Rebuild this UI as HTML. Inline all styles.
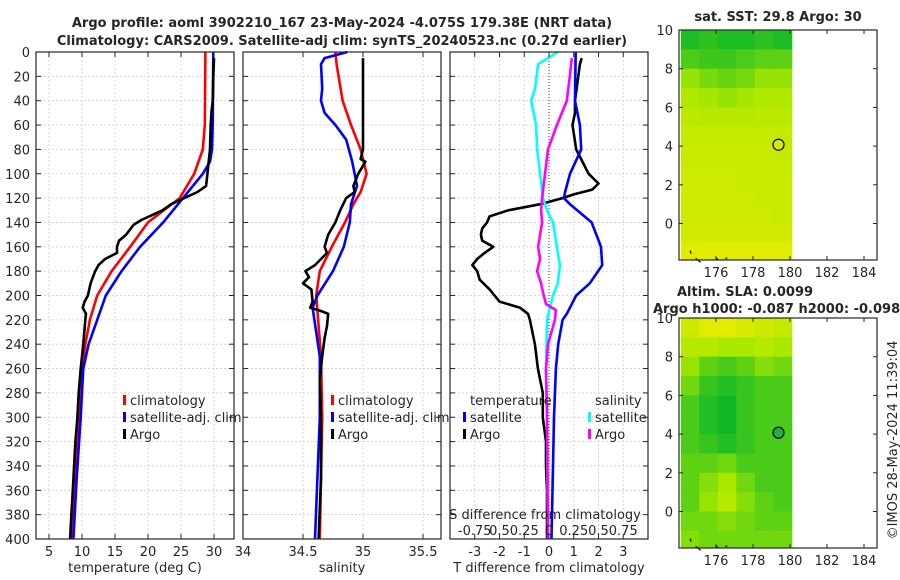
<!DOCTYPE html>
<html><head><meta charset="utf-8"><style>
body{margin:0;background:#fff;}
svg{display:block;font-family:"DejaVu Sans","Liberation Sans",sans-serif;}
text{fill:#262626;}
</style></head><body>
<svg id="fig" width="900" height="580" viewBox="0 0 900 580"></svg>
<script>
// ---------- data ----------
const depthTicks=[0,20,40,60,80,100,120,140,160,180,200,220,240,260,280,300,320,340,360,380,400];
const tTicks=[5,10,15,20,25,30];
const sTicks=[34,34.5,35,35.5];
const sTickLabels=['34','34.5','35','35.5'];
const dtTicks=[-3,-2,-1,0,1,2,3];
const dsTicks=[-0.75,-0.5,-0.25,0,0.25,0.5,0.75];
const dsTickLabels=['-0.75','0.5','0.25','0','0.25','0.5','0.75'];

const argoTDepth=[5,20,40,50,60,80,90,100,110,115,120,125,130,133,138,142,150,155,160,165,170,175,180,190,200,205,210,215,220,240,260,280,300,320,340,360,380,400];
const argoT=[30.0,29.9,29.8,29.6,29.5,29.4,29.2,29.0,28.8,27.5,25.5,23.5,22.2,21.0,19.0,17.8,16.7,15.6,15.3,15.3,13.5,12.5,12.0,11.3,10.9,10.4,10.1,10.6,10.5,10.2,9.8,9.5,9.3,9.0,8.8,8.6,8.4,8.2];
const climTDepth=[0,60,80,100,120,140,160,180,200,220,240,260,300,350,400];
const climT=[28.7,28.6,28.3,27.0,24.8,20.0,17.3,14.5,12.3,11.2,10.5,10.0,9.5,9.0,8.5];
const satTDepth=[0,60,80,90,100,120,140,160,180,200,220,240,260,300,350,400];
const satT=[29.9,29.8,29.7,29.4,28.3,25.3,22.3,18.8,16.0,13.6,12.3,11.0,10.2,9.8,9.2,8.7];

const argoSDepth=[5,20,40,60,80,88,90,100,110,115,120,130,140,150,160,165,175,180,185,190,195,205,210,212,215,225,235,250,270,300,350,400];
const argoS=[35.0,35.0,35.0,35.0,35.0,34.98,35.02,34.96,34.92,34.93,34.86,34.81,34.77,34.71,34.68,34.7,34.6,34.52,34.55,34.5,34.57,34.58,34.56,34.63,34.71,34.7,34.68,34.66,34.64,34.65,34.65,34.63];
const climSDepth=[0,10,40,60,80,100,115,125,140,160,180,200,250,300,400];
const climS=[34.77,34.78,34.83,34.9,34.98,35.03,34.98,34.92,34.85,34.74,34.64,34.61,34.65,34.66,34.64];
const satSDepth=[0,5,10,30,40,50,60,72,90,110,125,140,160,180,200,210,250,300,400];
const satS=[34.87,34.68,34.65,34.66,34.65,34.68,34.77,34.86,34.91,34.95,34.9,34.89,34.84,34.75,34.62,34.58,34.64,34.64,34.6];

const dsSatDepth=[0,5,10,30,40,60,80,100,120,130,140,160,175,190,200,220,260,300,400];
const dsSat=[0.09,-0.01,-0.11,-0.14,-0.18,-0.13,-0.12,-0.09,-0.06,-0.02,0.04,0.08,0.11,0.09,0.04,-0.02,-0.03,-0.02,-0.01];
const dsArgoDepth=[5,20,40,60,80,100,120,130,140,160,170,180,190,198,207,212,220,240,260,300,400];
const dsArgo=[0.23,0.21,0.18,0.08,-0.01,-0.04,-0.07,-0.08,-0.07,-0.11,-0.09,-0.12,-0.08,-0.06,-0.03,0.07,0.06,-0.01,-0.03,-0.02,-0.01];
const dtSatDepth=[0,40,60,80,100,115,120,125,140,160,175,190,200,215,220,240,260,300,400];
const dtSat=[1.08,1.05,1.25,1.3,0.85,0.65,0.6,0.85,1.72,2.1,2.15,1.65,1.1,0.72,0.55,0.37,0.28,0.2,0.1];
const dtArgoDepth=[5,10,40,50,60,80,90,100,108,113,117,120,125,130,135,140,145,150,155,160,165,170,175,180,187,195,205,210,215,220,240,260,280,300,320,340,360,400];
const dtArgo=[1.32,1.25,1.05,1.05,0.95,1.1,1.35,1.6,2.0,1.75,1.0,0.55,-0.35,-1.65,-2.4,-2.5,-2.7,-2.75,-2.7,-2.25,-2.6,-2.9,-3.1,-2.9,-2.8,-2.4,-2.0,-1.17,-0.85,-0.77,-0.57,-0.45,-0.25,-0.25,-0.12,-0.12,-0.08,-0.08];

const mapLatTicks=[0,2,4,6,8,10];
const mapLonTicks=[176,178,180,182,184];
const gridLats=[10,9,8,7,6,5,4,3,2,1,0,-1,-2];
const gridLons=[174.1,175.1,176.1,177.1,178.1,179.1,180.1];
const sstGrid=[
[28.6,28.7,28.6,28.6,28.7,28.6],
[28.9,28.8,28.8,28.9,29.0,29.0],
[29.4,29.2,29.1,29.2,29.4,29.4],
[29.6,29.5,29.4,29.5,29.6,29.6],
[29.75,29.7,29.7,29.7,29.75,29.75],
[29.85,29.85,29.85,29.85,29.85,29.85],
[29.9,29.9,29.9,29.9,29.9,29.85],
[29.95,29.95,29.95,29.9,29.9,29.9],
[29.95,29.95,29.95,29.95,29.9,29.9],
[29.95,29.95,29.95,29.95,29.95,29.9],
[30.0,30.0,30.0,30.0,30.0,30.0],
[30.2,30.2,30.2,30.2,30.2,30.2]];
const slaGrid=[
[0.10,0.12,0.13,0.11,0.10,0.09],
[0.08,0.08,0.07,0.07,0.08,0.07],
[0.06,0.03,0.02,0.03,0.05,0.04],
[0.04,0.01,0.0,0.01,0.02,0.02],
[0.02,0.0,-0.01,0.01,0.02,0.02],
[0.02,0.0,-0.01,0.01,0.02,0.02],
[0.02,0.01,0.0,0.01,0.02,0.02],
[0.03,0.03,0.04,0.02,0.02,0.02],
[0.03,0.05,0.07,0.04,0.02,0.02],
[0.03,0.06,0.08,0.05,0.03,0.02],
[0.04,0.04,0.05,0.04,0.03,0.03],
[0.05,0.04,0.04,0.04,0.04,0.04]];
const argoLon=179.38, argoLat=4.07;

// ---------- helpers ----------
const NS='http://www.w3.org/2000/svg';
const svg=document.getElementById('fig');
function el(tag,attrs,parent,txt){const e=document.createElementNS(NS,tag);for(const k in attrs)e.setAttribute(k,attrs[k]);if(txt!==undefined)e.textContent=txt;(parent||svg).appendChild(e);return e;}
function lin(d0,d1,r0,r1){return v=>r0+(v-d0)*(r1-r0)/(d1-d0);}
const Y0=52,Y1=539;
const yD=lin(0,400,Y0,Y1);

function panel(x0,x1,name){
  const g=el('g',{});
  
  
  el('rect',{x:x0,y:Y0,width:x1-x0,height:Y1-Y0,fill:'#fff'},g);
  depthTicks.forEach(d=>{el('line',{x1:x0,x2:x1,y1:yD(d),y2:yD(d),stroke:'#c8cce6','stroke-width':0.8,'stroke-dasharray':'2,2'},g);});
  return g;
}
function frame(g,x0,x1,labels){
  depthTicks.forEach(d=>{
    el('line',{x1:x0,x2:x0+5,y1:yD(d),y2:yD(d),stroke:'#262626'},g);
    el('line',{x1:x1-5,x2:x1,y1:yD(d),y2:yD(d),stroke:'#262626'},g);
    if(labels){const t=el('text',{x:x0-6,y:yD(d)+5,'text-anchor':'end','font-size':13},g,String(d));}
  });
  el('rect',{x:x0,y:Y0,width:x1-x0,height:Y1-Y0,fill:'none',stroke:'#262626','stroke-width':1.2},g);
}
function vgrid(g,xs){xs.forEach(x=>el('line',{x1:x,x2:x,y1:Y0,y2:Y1,stroke:'#c8cce6','stroke-width':0.8,'stroke-dasharray':'2,2'},g));}
function series(g,vals,depths,xf,color,name){
  const p=vals.map((v,i)=>xf(v).toFixed(1)+','+yD(depths[i]).toFixed(1)).join(' ');
  const l=el('polyline',{points:p,fill:'none',stroke:color,'stroke-width':2.6,'stroke-linejoin':'round'},g);
  
  
}
function legendEntry(g,x,y,color,label,name){
  const e=el('g',{},g);
  
  
  if(color)el('rect',{x:x-7,y:y-10,width:3,height:10,fill:color},e);
  el('text',{x:x,y:y,'font-size':13},e,label);
}

// ---------- titles ----------
el('text',{x:342,y:27,'text-anchor':'middle','font-size':13,'font-weight':'bold',fill:'#000'},svg,'Argo profile: aoml 3902210_167 23-May-2024 -4.075S 179.38E (NRT data)');
el('text',{x:342,y:45,'text-anchor':'middle','font-size':13,'font-weight':'bold',fill:'#000'},svg,'Climatology: CARS2009. Satellite-adj clim: synTS_20240523.nc (0.27d earlier)');

// ---------- panel 1: temperature ----------
const xT=lin(5,30,49,214);
let g1=panel(36,234,'temperature-panel');
vgrid(g1,tTicks.map(xT));
series(g1,climT,climTDepth,xT,'#ff0000','climatology-temperature-line');
series(g1,satT,satTDepth,xT,'#0000ff','satellite-temperature-line');
series(g1,argoT,argoTDepth,xT,'#000000','argo-temperature-line');
frame(g1,36,234,true);
tTicks.forEach(t=>{el('line',{x1:xT(t),x2:xT(t),y1:Y1,y2:Y1-5,stroke:'#262626'},g1);el('line',{x1:xT(t),x2:xT(t),y1:Y0,y2:Y0+5,stroke:'#262626'},g1);el('text',{x:xT(t),y:556,'text-anchor':'middle','font-size':13},g1,String(t));});
el('text',{x:135,y:572,'text-anchor':'middle','font-size':13},g1,'temperature (deg C)');
legendEntry(g1,130,405,'#ff0000','climatology','legend-climatology');
legendEntry(g1,130,422,'#0000ff','satellite-adj. clim','legend-satellite-adj');
legendEntry(g1,130,439,'#000000','Argo','legend-argo');

// ---------- panel 2: salinity ----------
const xS=lin(34,35,243,363);
let g2=panel(243,441,'salinity-panel');
vgrid(g2,sTicks.map(xS));
series(g2,climS,climSDepth,xS,'#ff0000','climatology-salinity-line');
series(g2,satS,satSDepth,xS,'#0000ff','satellite-salinity-line');
series(g2,argoS,argoSDepth,xS,'#000000','argo-salinity-line');
frame(g2,243,441,false);
sTicks.forEach((s,i)=>{el('line',{x1:xS(s),x2:xS(s),y1:Y1,y2:Y1-5,stroke:'#262626'},g2);el('line',{x1:xS(s),x2:xS(s),y1:Y0,y2:Y0+5,stroke:'#262626'},g2);el('text',{x:xS(s),y:556,'text-anchor':'middle','font-size':13},g2,sTickLabels[i]);});
el('text',{x:342,y:572,'text-anchor':'middle','font-size':13},g2,'salinity');
legendEntry(g2,338,405,'#ff0000','climatology','legend-climatology-s');
legendEntry(g2,338,422,'#0000ff','satellite-adj. clim','legend-satellite-adj-s');
legendEntry(g2,338,439,'#000000','Argo','legend-argo-s');

// ---------- panel 3: differences ----------
const xDT=lin(0,1,549,573.75);
const xDS=lin(0,0.25,549,573.75);
let g3=panel(450,648,'difference-panel');
vgrid(g3,dtTicks.filter(v=>v!==0).map(xDT));
el('line',{x1:549,x2:549,y1:Y0,y2:Y1,stroke:'#333','stroke-width':1,'stroke-dasharray':'1,2'},g3);
series(g3,dtArgo,dtArgoDepth,xDT,'#000000','argo-temperature-diff-line');
series(g3,dtSat,dtSatDepth,xDT,'#0000ff','satellite-temperature-diff-line');
series(g3,dsSat,dsSatDepth,xDS,'#00ffff','satellite-salinity-diff-line');
series(g3,dsArgo,dsArgoDepth,xDS,'#ff00ff','argo-salinity-diff-line');
frame(g3,450,648,false);
dtTicks.forEach(t=>{el('line',{x1:xDT(t),x2:xDT(t),y1:Y1,y2:Y1-5,stroke:'#262626'},g3);el('text',{x:xDT(t),y:556,'text-anchor':'middle','font-size':13},g3,String(t));});
dsTicks.forEach((s,i)=>{el('line',{x1:xDS(s),x2:xDS(s),y1:Y0,y2:Y0+5,stroke:'#262626'},g3);el('text',{x:xDS(s),y:535,'text-anchor':'middle','font-size':13},g3,dsTickLabels[i]);});
el('text',{x:545,y:519,'text-anchor':'middle','font-size':13},g3,'S difference from climatology');
el('text',{x:549,y:572,'text-anchor':'middle','font-size':13},g3,'T difference from climatology');
legendEntry(g3,470,405,null,'temperature','legend-temperature-header');
legendEntry(g3,470,422,'#0000ff','satellite','legend-t-satellite');
legendEntry(g3,470,439,'#000000','Argo','legend-t-argo');
legendEntry(g3,595,405,null,'salinity','legend-salinity-header');
legendEntry(g3,595,422,'#00ffff','satellite','legend-s-satellite');
legendEntry(g3,595,439,'#ff00ff','Argo','legend-s-argo');

// ---------- maps ----------
function mix(a,b,t){t=Math.max(0,Math.min(1,t));return 'rgb('+a.map((v,i)=>Math.round(v+(b[i]-v)*t)).join(',')+')';}
function cmap(v,lo,hi){const t=(v-lo)/(hi-lo);const g=[16,184,40],m=[168,232,0],y=[226,236,0];return t<0.6?mix(g,m,t/0.6):mix(m,y,(t-0.6)/0.4);}
function mapPanel(y0,y1,grid,lo,hi,name,circleFill){
  const x0=679,x1=877;
  const xL=lin(176,184,716,864), yL=lin(10,0,y0,y0+193.5);
  const g=el('g',{});
  
  
  el('rect',{x:x0,y:y0,width:x1-x0,height:y1-y0,fill:'#fff'},g);
  grid.forEach((row,r)=>row.forEach((v,c)=>{
    const xa=Math.max(x0,xL(gridLons[c])),xb=xL(gridLons[c+1]);
    const ya=yL(gridLats[r]),yb=Math.min(y1,yL(gridLats[r+1]));
    const cell=el('rect',{x:xa.toFixed(1),y:ya.toFixed(1),width:(xb-xa+0.5).toFixed(1),height:(yb-ya+0.5).toFixed(1),fill:cmap(v,lo,hi)},g);
    
    
  }));
  el('path',{d:'M'+xL(174.6)+','+yL(-1.4)+'l1,3 M'+xL(174.9)+','+yL(-1.8)+'l5,4 M'+xL(176)+','+yL(-1.8)+'l2,1 M'+xL(176.5)+','+yL(-1.8)+'l2,0',stroke:'#000','stroke-width':1.2,fill:'none'},g);
  const c=el('circle',{cx:xL(argoLon),cy:yL(argoLat),r:5.5,fill:circleFill,stroke:'#000','stroke-width':1.2},g);
  
  
  el('rect',{x:x0,y:y0,width:x1-x0,height:y1-y0,fill:'none',stroke:'#262626','stroke-width':1.2},g);
  mapLatTicks.forEach(l=>{el('line',{x1:x0,x2:x0+4,y1:yL(l),y2:yL(l),stroke:'#262626'},g);el('line',{x1:x1-4,x2:x1,y1:yL(l),y2:yL(l),stroke:'#262626'},g);el('text',{x:x0-6,y:yL(l)+5,'text-anchor':'end','font-size':13},g,String(l));});
  mapLonTicks.forEach(l=>{el('line',{x1:xL(l),x2:xL(l),y1:y1,y2:y1-4,stroke:'#262626'},g);el('line',{x1:xL(l),x2:xL(l),y1:y0,y2:y0+4,stroke:'#262626'},g);el('text',{x:xL(l),y:y1+17,'text-anchor':'middle','font-size':13},g,String(l));});
}
mapPanel(30,260,sstGrid,28.5,30.2,'sst-map','#d8ec00');
mapPanel(318,548,slaGrid,-0.01,0.12,'sla-map','#20b040');
el('text',{x:778,y:21,'text-anchor':'middle','font-size':13,'font-weight':'bold',fill:'#000'},svg,'sat. SST: 29.8 Argo: 30');
el('text',{x:677,y:296,'font-size':13,'font-weight':'bold',fill:'#000'},svg,'Altim. SLA: 0.0099');
el('text',{x:653,y:313,'font-size':13,'font-weight':'bold',fill:'#000'},svg,'Argo h1000: -0.087 h2000: -0.098');
el('text',{x:0,y:0,'font-size':13,'text-anchor':'middle',transform:'translate(897,440) rotate(-90)'},svg,'©IMOS 28-May-2024 11:39:04');
</script>
</body></html>
